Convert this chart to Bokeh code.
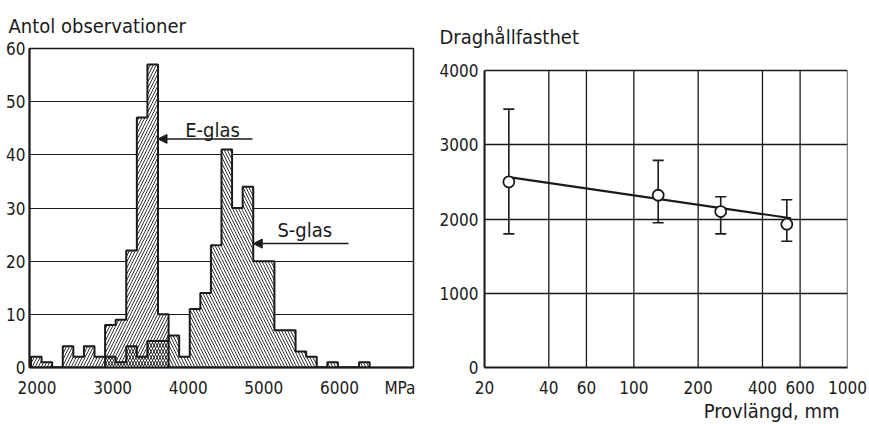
from bokeh.plotting import figure
from bokeh.layouts import row
from bokeh.models import (ColumnDataSource, FixedTicker, Range1d, Label, Arrow,
                          NormalHead, Whisker, TeeHead, PrintfTickFormatter,
                          Title)
from bokeh.embed import file_html
from bokeh.resources import INLINE

# ---- Histogram data: tensile strength of glass fibres (MPa) ----
bin_start = 1920
bin_width = 140
e_glass = [2, 1, 0, 4, 2, 4, 2, 8, 9, 22, 47, 57, 10, 0, 0, 0,
           0, 0, 0, 0, 0, 0, 0, 0, 0, 0, 0, 0, 0, 0, 0, 0]
s_glass = [0, 0, 0, 0, 0, 0, 0, 2, 1, 4, 2, 5, 5, 6, 2, 11,
           14, 23, 41, 30, 34, 20, 20, 7, 7, 3, 2, 0, 1, 0, 0, 1]
hist_x_ticks = [2000, 3000, 4000, 5000, 6000]
hist_y_ticks = [0, 10, 20, 30, 40, 50, 60]
unit_tick = 6800   # where the unit name sits on the strength axis

# ---- Strength vs. specimen length ----
length_mm = [26, 130, 255, 520]
strength = [2500, 2320, 2100, 1930]
strength_hi = [3480, 2790, 2300, 2260]
strength_lo = [1800, 1950, 1800, 1700]
fit_x = [26, 545]
fit_y = [2565, 2010]
len_x_ticks = [20, 40, 60, 100, 200, 400, 600, 1000]
len_y_ticks = [0, 1000, 2000, 3000, 4000]

FONT = "DejaVu Sans Condensed"
INK = "#1a1a1a"
TICK_SIZE = "17px"
TITLE_SIZE = "20px"

FRAME_TOP = 48
FRAME_H = 319
BOTTOM = 57


def style_axes(p, standoff_x, standoff_y):
    for ax in p.xaxis + p.yaxis:
        ax.major_tick_line_color = None
        ax.minor_tick_line_color = None
        ax.major_tick_out = 0
        ax.major_tick_in = 0
        ax.minor_tick_out = 0
        ax.minor_tick_in = 0
        ax.axis_line_width = 2
        ax.axis_line_color = INK
        ax.major_label_text_font = FONT
        ax.major_label_text_font_size = TICK_SIZE
        ax.major_label_text_color = INK
    p.xaxis.major_label_standoff = standoff_x
    p.yaxis.major_label_standoff = standoff_y
    p.outline_line_color = INK
    p.outline_line_width = 1.5
    p.outline_line_alpha = 1.0


def style_title(t, text, align, offset, standoff):
    t.text = text
    t.align = align
    t.offset = offset
    t.standoff = standoff
    t.text_font = FONT
    t.text_font_size = TITLE_SIZE
    t.text_font_style = "normal"
    t.text_color = INK


# ================= Left: histogram =================
left = [bin_start + i * bin_width for i in range(len(e_glass))]
right = [l + bin_width for l in left]
cover = [max(a, b) for a, b in zip(e_glass, s_glass)]

hist = figure(frame_width=384, frame_height=FRAME_H, output_backend="svg",
              toolbar_location=None, x_range=Range1d(1900, 6980),
              y_range=Range1d(0, 60), min_border_left=29, min_border_right=23,
              min_border_top=FRAME_TOP, min_border_bottom=BOTTOM,
              background_fill_color="white", border_fill_color="white")
style_title(hist.title, "Antol observationer", "left", -21, 21)
hist.xaxis.ticker = FixedTicker(ticks=hist_x_ticks + [unit_tick])
hist.xaxis.major_label_overrides = {unit_tick: "MPa"}
hist.yaxis.ticker = FixedTicker(ticks=hist_y_ticks)
hist.xgrid.grid_line_color = None
hist.ygrid.grid_line_color = INK
hist.ygrid.grid_line_width = 1.2
style_axes(hist, 10, 4)

src = ColumnDataSource(dict(left=left, right=right, e=e_glass, s=s_glass,
                            cover=cover))
# white backing so the grid lines stop at the bars
hist.quad(left="left", right="right", bottom=0, top="cover", source=src,
          fill_color="white", line_color=None)
# E-glass: "/" hatching, S-glass: "\" hatching; overlap becomes cross hatch
hist.quad(left="left", right="right", bottom=0, top="e", source=src,
          fill_alpha=0, line_color=None, hatch_pattern="/",
          hatch_color=INK, hatch_scale=6, hatch_weight=0.9)
hist.quad(left="left", right="right", bottom=0, top="s", source=src,
          fill_alpha=0, line_color=None, hatch_pattern="\\",
          hatch_color=INK, hatch_scale=6, hatch_weight=0.9)


def step_outline(counts):
    xs, ys = [left[0]], [0]
    for l, r, c in zip(left, right, counts):
        xs += [l, r]
        ys += [c, c]
    xs.append(right[-1])
    ys.append(0)
    return xs, ys


for counts in (e_glass, s_glass):
    sx, sy = step_outline(counts)
    hist.line(sx, sy, line_color=INK, line_width=2)

# callouts
e_edge = right[e_glass.index(max(e_glass))]
hist.add_layout(Arrow(end=NormalHead(size=9, fill_color=INK, line_color=INK),
                      x_start=4850, y_start=43, x_end=e_edge, y_end=43,
                      line_color=INK, line_width=1.5))
hist.add_layout(Label(x=3960, y=44.6, text="E-glas", text_font=FONT,
                      text_font_size=TITLE_SIZE, text_color=INK,
                      text_baseline="alphabetic"))
s_edge = right[s_glass.index(34)]
hist.add_layout(Arrow(end=NormalHead(size=9, fill_color=INK, line_color=INK),
                      x_start=6120, y_start=23.3, x_end=s_edge, y_end=23.3,
                      line_color=INK, line_width=1.5))
hist.add_layout(Label(x=5180, y=25.8, text="S-glas", text_font=FONT,
                      text_font_size=TITLE_SIZE, text_color=INK,
                      text_baseline="alphabetic"))

# ================= Right: strength vs length =================
# The plotting box shares its top with the histogram; the grid itself
# stops at 4000, a little lower, so the range reaches past it.
y_top = len_y_ticks[-1]
grid_px = 297
plen = figure(frame_width=363, frame_height=FRAME_H, output_backend="svg",
              toolbar_location=None, x_axis_type="log",
              x_range=Range1d(20, 1000),
              y_range=Range1d(0, y_top * FRAME_H / grid_px),
              min_border_left=47, min_border_right=23,
              min_border_top=FRAME_TOP, min_border_bottom=BOTTOM,
              background_fill_color="white", border_fill_color="white")
style_title(plen.title, "Draghållfasthet", "left", -45, -1)
xlabel = Title()
style_title(xlabel, "Provlängd, mm", "right", 8, 0)
plen.add_layout(xlabel, "below")
plen.xaxis.ticker = FixedTicker(ticks=len_x_ticks)
plen.xaxis.formatter = PrintfTickFormatter(format="%d")
plen.yaxis.ticker = FixedTicker(ticks=len_y_ticks)
plen.yaxis.bounds = (0, y_top)
plen.xgrid.grid_line_color = None
plen.ygrid.grid_line_color = INK
plen.ygrid.grid_line_width = 1.3
style_axes(plen, 13, 6)
plen.outline_line_color = None

# vertical grid lines, stopping at the top grid line
plen.segment(x0=len_x_ticks, y0=[0] * len(len_x_ticks), x1=len_x_ticks,
             y1=[y_top] * len(len_x_ticks), line_color=INK, line_width=1.3)

pts = ColumnDataSource(dict(x=length_mm, y=strength, hi=strength_hi,
                            lo=strength_lo))
plen.add_layout(Whisker(base="x", upper="hi", lower="lo", source=pts,
                        line_color=INK, line_width=1.6,
                        upper_head=TeeHead(size=11, line_color=INK,
                                           line_width=1.6),
                        lower_head=TeeHead(size=11, line_color=INK,
                                           line_width=1.6)))
plen.line(fit_x, fit_y, line_color=INK, line_width=2.2)
plen.scatter("x", "y", source=pts, size=11, fill_color="white",
             line_color=INK, line_width=1.8)

p = row(hist, plen, spacing=0)
open("out.html", "w").write(file_html(p, INLINE))
